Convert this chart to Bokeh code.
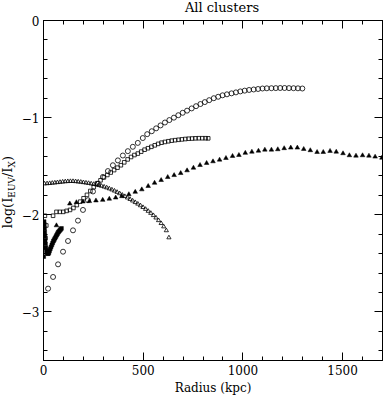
from bokeh.plotting import figure
from bokeh.layouts import row, column
from bokeh.models import Range1d, LinearAxis, FixedTicker, Div
from bokeh.embed import file_html
from bokeh.resources import INLINE

FONT = "DejaVu Serif"

# ---------------- data ----------------
circ_x = [23, 48, 73, 98, 123, 148, 173, 198, 223, 248, 273, 298, 323, 348, 373, 398, 423, 448, 473, 498,
          520, 543, 565, 587, 609, 631, 654, 676, 698, 720, 743, 765, 787, 809, 831, 854, 876, 898, 920, 943,
          965, 987, 1009, 1031, 1054, 1076, 1098, 1120, 1143, 1165, 1187, 1209, 1231, 1254, 1276, 1298]
circ_y = [-2.76, -2.64, -2.51, -2.38, -2.27, -2.16, -2.06, -1.95, -1.85, -1.76, -1.68, -1.61, -1.55, -1.49,
          -1.44, -1.39, -1.345, -1.30, -1.26, -1.21,
          -1.17, -1.14, -1.11, -1.08, -1.05, -1.025, -1.00, -0.975, -0.95, -0.928, -0.905, -0.882, -0.86,
          -0.84, -0.82, -0.80, -0.785, -0.77, -0.76, -0.75, -0.74, -0.73, -0.722, -0.715, -0.71, -0.705,
          -0.70, -0.698, -0.697, -0.696, -0.695, -0.695, -0.696, -0.697, -0.698, -0.70]

sq_x = [7, 48, 65, 82, 99, 116, 133, 150, 167, 184, 201, 218, 235, 252, 269, 286, 303, 320, 337, 354, 371,
        388, 405, 422, 439, 456, 473, 490, 507, 524, 541, 558, 575, 592, 609, 626, 643, 660, 677, 694, 711,
        728, 745, 762, 779, 796, 813, 826]
sq_y = [-2.01, -2.01, -1.97, -1.97, -1.97, -1.96, -1.95, -1.93, -1.90, -1.865, -1.83, -1.795, -1.755,
        -1.715, -1.675, -1.645, -1.615, -1.59, -1.565, -1.54, -1.515, -1.49, -1.46, -1.43, -1.405, -1.385,
        -1.37, -1.35, -1.33, -1.315, -1.30, -1.285, -1.27, -1.258, -1.25, -1.243, -1.237, -1.232, -1.228,
        -1.224, -1.22, -1.217, -1.215, -1.213, -1.212, -1.212, -1.212, -1.213]

inner_sq_x = [14, 10]
inner_sq_y = [-2.11, -2.24]

otri_x = [5, 18, 31, 44, 57, 70, 83, 96, 109, 122, 135, 148, 161, 174, 187, 200, 213, 226, 239, 252, 265,
          278, 291, 304, 317, 330, 343, 356, 369, 382, 395, 408, 421, 434, 447, 460, 473, 486, 499, 512, 525,
          538, 551, 564, 577, 590, 603, 616, 629]
otri_y = [-1.680, -1.678, -1.676, -1.673, -1.670, -1.667, -1.664, -1.661, -1.658, -1.656, -1.655, -1.655,
          -1.657, -1.660, -1.663, -1.667, -1.671, -1.675, -1.680, -1.685, -1.690, -1.697, -1.704, -1.712,
          -1.721, -1.731, -1.742, -1.754, -1.767, -1.781, -1.796, -1.810, -1.825, -1.840, -1.856, -1.872,
          -1.888, -1.905, -1.923, -1.942, -1.962, -1.983, -2.006, -2.031, -2.058, -2.088, -2.122, -2.162,
          -2.235]

ftri_x = [65, 132, 165, 198, 230, 263, 297, 330, 362, 393, 428, 460, 493, 525, 557, 590, 623, 655, 688, 720,
          752, 785, 818, 850, 883, 915, 948, 980, 1012, 1045, 1078, 1110, 1143, 1175, 1207, 1240, 1273, 1305,
          1338, 1372, 1403, 1437, 1468, 1502, 1534, 1567, 1600, 1632, 1663, 1697]
ftri_y = [-2.11, -1.886, -1.872, -1.865, -1.861, -1.854, -1.848, -1.836, -1.824, -1.81, -1.79, -1.765,
          -1.74, -1.705, -1.672, -1.644, -1.613, -1.593, -1.572, -1.544, -1.517, -1.489, -1.468, -1.451,
          -1.434, -1.417, -1.396, -1.386, -1.364, -1.352, -1.342, -1.331, -1.331, -1.327, -1.316, -1.310,
          -1.310, -1.324, -1.337, -1.355, -1.355, -1.344, -1.352, -1.368, -1.389, -1.393, -1.389, -1.393,
          -1.403, -1.414]

fsq_x = [3, 4, 5, 6, 7, 8, 10, 12, 15, 18, 21, 24, 27, 30, 34, 38, 42, 46, 50, 54, 58, 62, 66, 70, 74, 78,
         82, 86, 90, 1]
fsq_y = [-2.07, -2.10, -2.14, -2.18, -2.22, -2.26, -2.30, -2.34, -2.37, -2.39, -2.40, -2.40, -2.39, -2.37,
         -2.35, -2.33, -2.31, -2.29, -2.27, -2.255, -2.24, -2.225, -2.21, -2.195, -2.18, -2.17, -2.16, -2.15,
         -2.14, -2.43]

x_major = [0, 500, 1000, 1500]
x_minor = [100, 200, 300, 400, 600, 700, 800, 900, 1100, 1200, 1300, 1400, 1600]
y_major = [-3, -2, -1, 0]
y_minor = [-3.4, -3.2, -2.8, -2.6, -2.4, -2.2, -1.8, -1.6, -1.4, -1.2, -0.8, -0.6, -0.4, -0.2]
y_labels = {-3: "\u22123", -2: "\u22122", -1: "\u22121", 0: "0"}

title_text = "All clusters"
xlabel_text = "Radius (kpc)"
ylabel_html = 'log(I<sub style="font-size:9px">EUV</sub>/I<sub style="font-size:9px">X</sub>)'

# ---------------- sizes ----------------
TOTAL_W, TOTAL_H = 384, 397
TH = 12            # title strip height
LW = 18            # y-title strip width
H = TOTAL_H - TH   # height of the plot row
W = TOTAL_W - LW

# ---------------- title strip (HTML text) ----------------
title_div = Div(
    text=('<div style="width:%dpx;height:%dpx;overflow:visible;padding-left:60px;box-sizing:border-box;'
          'text-align:center;font-family:\'%s\';font-size:13px;line-height:13px;color:black;'
          'margin-top:-1px;white-space:nowrap;">%s</div>') % (TOTAL_W, TH, FONT, title_text),
    width=TOTAL_W, height=TH, margin=0)

# ---------------- y-axis title strip (HTML text, rotated) ----------------
ylab = Div(
    text=('<div style="width:%dpx;height:%dpx;display:flex;align-items:center;justify-content:center;'
          'padding-bottom:25px;box-sizing:border-box;">'
          '<span style="writing-mode:vertical-rl;transform:rotate(180deg);font-family:\'%s\';'
          'font-size:13px;white-space:nowrap;line-height:1;color:black;">%s</span></div>')
    % (LW, H, FONT, ylabel_html),
    width=LW, height=H, margin=0)

# ---------------- main figure ----------------
p = figure(width=W, height=H, output_backend="svg", toolbar_location=None,
           x_range=Range1d(0, 1700), y_range=Range1d(-3.5, 0),
           min_border_left=42 - LW, min_border_right=2, min_border_top=20 - TH, min_border_bottom=37)
p.grid.visible = False
p.outline_line_color = "black"
p.outline_line_width = 1
p.background_fill_color = "white"
p.border_fill_color = "white"


def ticks_only(ax):
    ax.axis_line_color = "black"
    ax.major_tick_line_color = "black"
    ax.minor_tick_line_color = "black"
    ax.major_tick_in = 8
    ax.major_tick_out = 0
    ax.minor_tick_in = 4
    ax.minor_tick_out = 0


p.xaxis.ticker = FixedTicker(ticks=x_major, minor_ticks=x_minor)
p.yaxis.ticker = FixedTicker(ticks=y_major, minor_ticks=y_minor)
for ax in (p.xaxis[0], p.yaxis[0]):
    ticks_only(ax)
    ax.major_label_text_font = FONT
    ax.major_label_text_font_size = "12px"
    ax.major_label_text_color = "black"
p.xaxis.major_label_standoff = 4
p.yaxis.major_label_standoff = 4
p.yaxis.major_label_overrides = y_labels
p.xaxis.axis_label = xlabel_text
p.xaxis.axis_label_text_font = FONT
p.xaxis.axis_label_text_font_size = "12px"
p.xaxis.axis_label_text_font_style = "normal"
p.xaxis.axis_label_text_color = "black"
p.xaxis.axis_label_standoff = 3

# right / top: tick marks only (majors drawn as long "minor" ticks, no labels)
for side, majors, minors in (("right", y_major, y_minor), ("above", x_major, x_minor)):
    a_long = LinearAxis(ticker=FixedTicker(ticks=[], minor_ticks=majors))
    ticks_only(a_long)
    a_long.minor_tick_in = 8
    a_long.major_label_standoff = 0
    a_short = LinearAxis(ticker=FixedTicker(ticks=[], minor_ticks=minors))
    ticks_only(a_short)
    a_short.major_label_standoff = 0
    p.add_layout(a_long, side)
    p.add_layout(a_short, side)

# ---------------- glyphs ----------------
p.scatter(circ_x, circ_y, marker="circle", size=5, fill_color=None, line_color="black", line_width=0.8)
p.scatter(sq_x, sq_y, marker="square", size=3.6, fill_color=None, line_color="black", line_width=0.8)
p.scatter(inner_sq_x, inner_sq_y, marker="square", size=3.6, fill_color=None, line_color="black", line_width=0.8)
p.scatter(otri_x, otri_y, marker="triangle", size=4.2, fill_color=None, line_color="black", line_width=0.8)
p.scatter(ftri_x, ftri_y, marker="triangle", size=4.6, fill_color="black", line_color="black", line_width=0.5)
p.scatter(fsq_x, fsq_y, marker="square", size=3.8, fill_color="black", line_color="black", line_width=0.5)

layout = column(title_div, row(ylab, p, spacing=0), spacing=0)
open("out.html", "w").write(file_html(layout, INLINE))
